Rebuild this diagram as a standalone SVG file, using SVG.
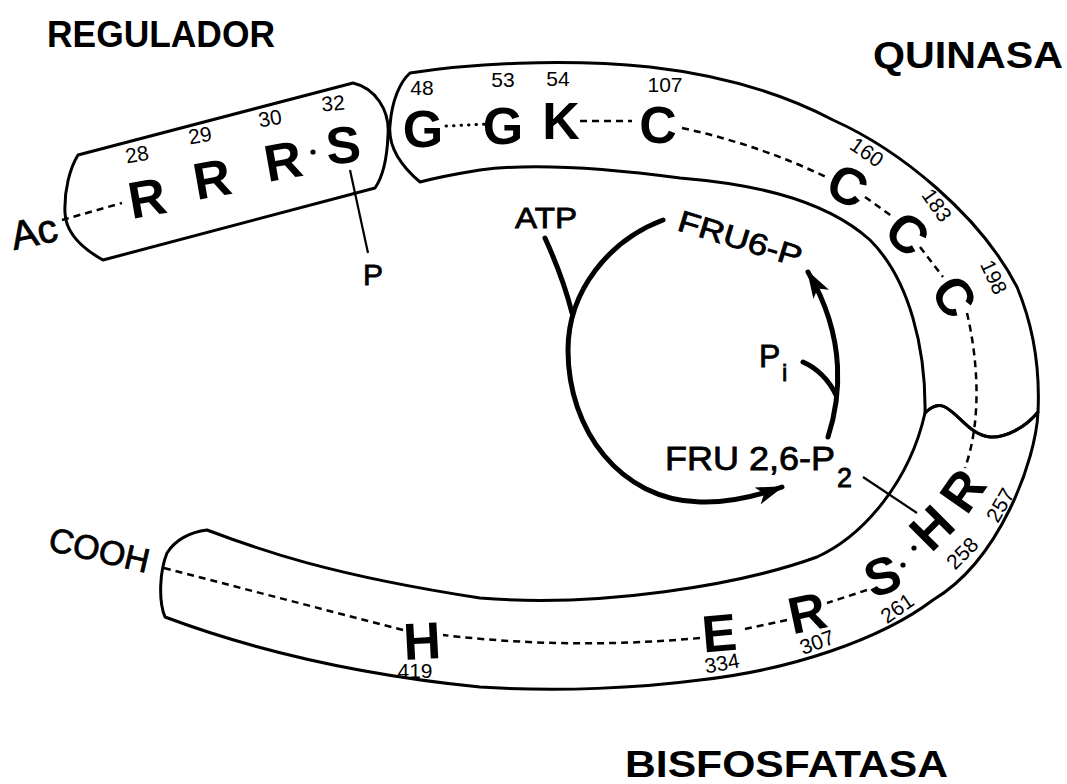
<svg xmlns="http://www.w3.org/2000/svg" width="1067" height="784" viewBox="0 0 1067 784">
<style>
.band{fill:none;stroke:#000;stroke-width:3;stroke-linejoin:round}
.dash{fill:none;stroke:#000;stroke-width:2.5;stroke-dasharray:7 5}
.dot{fill:none;stroke:#000;stroke-width:3;stroke-dasharray:0.5 7;stroke-linecap:round}
.thin{fill:none;stroke:#000;stroke-width:2.2}
.cyc{fill:none;stroke:#000;stroke-width:5;stroke-linecap:round}
.res{font-family:"Liberation Sans",Arial,sans-serif;font-weight:bold;font-size:52px;text-anchor:middle;fill:#000}
.num{font-family:"Liberation Sans",Arial,sans-serif;font-size:21px;text-anchor:middle;fill:#000}
.hdr{font-family:"Liberation Sans",Arial,sans-serif;font-weight:bold;font-size:37px;fill:#000}
.lbl{font-family:"Liberation Sans",Arial,sans-serif;fill:#000;stroke:#000;stroke-width:0.8}
</style>
<defs>
<marker id="ah" viewBox="0 0 28 18" refX="26" refY="9" markerWidth="28" markerHeight="18" markerUnits="userSpaceOnUse" orient="auto">
<path d="M0,0 L28,9 L0,18 L7,9 Z" fill="#000"/>
</marker>
</defs>
<rect width="1067" height="784" fill="#fff"/>

<g id="headers">
<text class="hdr" x="47" y="47" textLength="228" lengthAdjust="spacingAndGlyphs">REGULADOR</text>
<text class="hdr" x="873" y="68" textLength="190" lengthAdjust="spacingAndGlyphs">QUINASA</text>
<text class="hdr" x="625" y="777" textLength="323" lengthAdjust="spacingAndGlyphs">BISFOSFATASA</text>
</g>

<g id="regulador">
<path class="band" d="M78,155 L353,83 C375,88 390,110 388,135 C387,160 382,178 375,188 L103,260 C85,250 66,235 65,213 C64,190 70,168 78,155 Z"/>
</g>

<g id="quinasa">
<path class="band" d="M410,73 C470,64 560,58 650,67 C720,75 780,92 833,120 C900,150 980,215 1017,287 C1035,330 1040,370 1038,412 C1025,428 1005,438 990,437 C970,435 960,415 945,407 C937,403 930,408 925,413 C926,350 910,280 870,240 C820,195 740,183 680,178 C620,170 540,162 480,170 C455,174 435,178 420,182 C400,165 388,145 390,125 C392,100 400,82 410,73 Z"/>
</g>

<g id="bisfosfatasa">
<path class="band" d="M925,413 C930,408 937,403 945,407 C960,415 970,435 990,437 C1005,438 1025,428 1038,412 C1036,460 1000,560 933,600 C880,640 790,670 700,680 C640,688 560,692 480,687 C390,678 280,660 165,617 C158,600 160,570 167,553 C175,540 190,532 207,530 C260,550 330,575 480,598 C600,608 740,585 817,557 C865,535 910,480 925,413 Z"/>
</g>

<g id="connectors">
<path class="dash" d="M62,220 L122,203"/>
<circle cx="313" cy="152" r="2.6" fill="#000"/>
<path class="dot" d="M446,126 L489,124"/>
<path class="dash" d="M580,121 L632,121"/>
<path class="dash" d="M682,128 Q760,145 828,178"/>
<path class="dash" d="M865,197 L893,217"/>
<path class="dash" d="M920,247 L943,277"/>
<path class="dash" d="M967,313 C978,360 982,420 965,468"/>
<circle cx="914" cy="548" r="2.6" fill="#000"/>
<circle cx="903" cy="565" r="2.6" fill="#000"/>
<path class="dash" d="M867,590 L827,603"/>
<path class="dash" d="M787,620 L740,630"/>
<path class="dash" d="M700,638 Q570,650 443,635"/>
<path class="dash" d="M403,630 L160,567"/>
<path class="thin" d="M350,170 L368,253"/>
<path class="thin" d="M863,477 L917,513"/>
</g>

<g id="residuos">
<g transform="translate(147,197) rotate(-10)"><text class="res" y="19">R</text></g>
<g transform="translate(212,178) rotate(-10)"><text class="res" y="19">R</text></g>
<g transform="translate(283,160) rotate(-10)"><text class="res" y="19">R</text></g>
<g transform="translate(343,144) rotate(-5)"><text class="res" y="19">S</text></g>
<g transform="translate(423,128)"><text class="res" y="19">G</text></g>
<g transform="translate(503,125)"><text class="res" y="19">G</text></g>
<g transform="translate(561,120)"><text class="res" y="19">K</text></g>
<g transform="translate(658,124)"><text class="res" y="19">C</text></g>
<g transform="translate(848,185) rotate(25)"><text class="res" y="19">C</text></g>
<g transform="translate(908,233) rotate(40)"><text class="res" y="19">C</text></g>
<g transform="translate(955,296) rotate(55)"><text class="res" y="19">C</text></g>
<g transform="translate(962,490) rotate(-55)"><text class="res" y="19">R</text></g>
<g transform="translate(931,527) rotate(-45)"><text class="res" y="19">H</text></g>
<g transform="translate(882,575) rotate(-20)"><text class="res" y="19">S</text></g>
<g transform="translate(807,612) rotate(-12)"><text class="res" y="19">R</text></g>
<g transform="translate(719,632) rotate(-5)"><text class="res" y="19">E</text></g>
<g transform="translate(422,640) rotate(-3)"><text class="res" y="19">H</text></g>
</g>

<g id="numeros">
<g transform="translate(137,154) rotate(-10)"><text class="num" y="7.5">28</text></g>
<g transform="translate(200,135) rotate(-10)"><text class="num" y="7.5">29</text></g>
<g transform="translate(270,118) rotate(-10)"><text class="num" y="7.5">30</text></g>
<g transform="translate(333,103) rotate(-5)"><text class="num" y="7.5">32</text></g>
<g transform="translate(422,87)"><text class="num" y="7.5">48</text></g>
<g transform="translate(503,79)"><text class="num" y="7.5">53</text></g>
<g transform="translate(558,78)"><text class="num" y="7.5">54</text></g>
<g transform="translate(665,84)"><text class="num" y="7.5">107</text></g>
<g transform="translate(867,152) rotate(35)"><text class="num" y="7.5">160</text></g>
<g transform="translate(937,205) rotate(55)"><text class="num" y="7.5">183</text></g>
<g transform="translate(994,277) rotate(65)"><text class="num" y="7.5">198</text></g>
<g transform="translate(1000,505) rotate(-60)"><text class="num" y="7.5">257</text></g>
<g transform="translate(962,553) rotate(-45)"><text class="num" y="7.5">258</text></g>
<g transform="translate(897,608) rotate(-35)"><text class="num" y="7.5">261</text></g>
<g transform="translate(817,642) rotate(-20)"><text class="num" y="7.5">307</text></g>
<g transform="translate(722,663) rotate(-10)"><text class="num" y="7.5">334</text></g>
<g transform="translate(415,670)"><text class="num" y="7.5">419</text></g>
</g>

<g id="extremos">
<text class="lbl" x="14" y="250" style="font-size:40px" transform="rotate(-12 14 250)">Ac</text>
<text class="lbl" x="47" y="550" style="font-size:34px" transform="rotate(13 47 550)">COOH</text>
<text class="lbl" x="363" y="285" style="font-size:30px">P</text>
</g>

<g id="ciclo">
<path class="cyc" d="M663,220 C610,240 568,290 568,350 C568,430 620,500 700,502 C730,503 760,495 782,487" marker-end="url(#ah)"/>
<path class="cyc" d="M545,238 C555,260 565,285 572,313"/>
<path class="cyc" d="M828,437 C840,400 848,340 808,272" marker-end="url(#ah)"/>
<path class="cyc" d="M803,362 Q825,372 836,395" stroke-width="4"/>
<text class="lbl" x="515" y="228" style="font-size:30px" textLength="62" lengthAdjust="spacingAndGlyphs">ATP</text>
<text class="lbl" x="676" y="230" style="font-size:30px" textLength="128" lengthAdjust="spacingAndGlyphs" transform="rotate(17 676 230)">FRU6-P</text>
<text class="lbl" x="759" y="367" style="font-size:32px">P</text>
<text class="lbl" x="782" y="381" style="font-size:24px">i</text>
<text class="lbl" x="665" y="470" style="font-size:34px" textLength="170" lengthAdjust="spacingAndGlyphs">FRU 2,6-P</text>
<text class="lbl" x="837" y="487" style="font-size:27px">2</text>
</g>
</svg>
